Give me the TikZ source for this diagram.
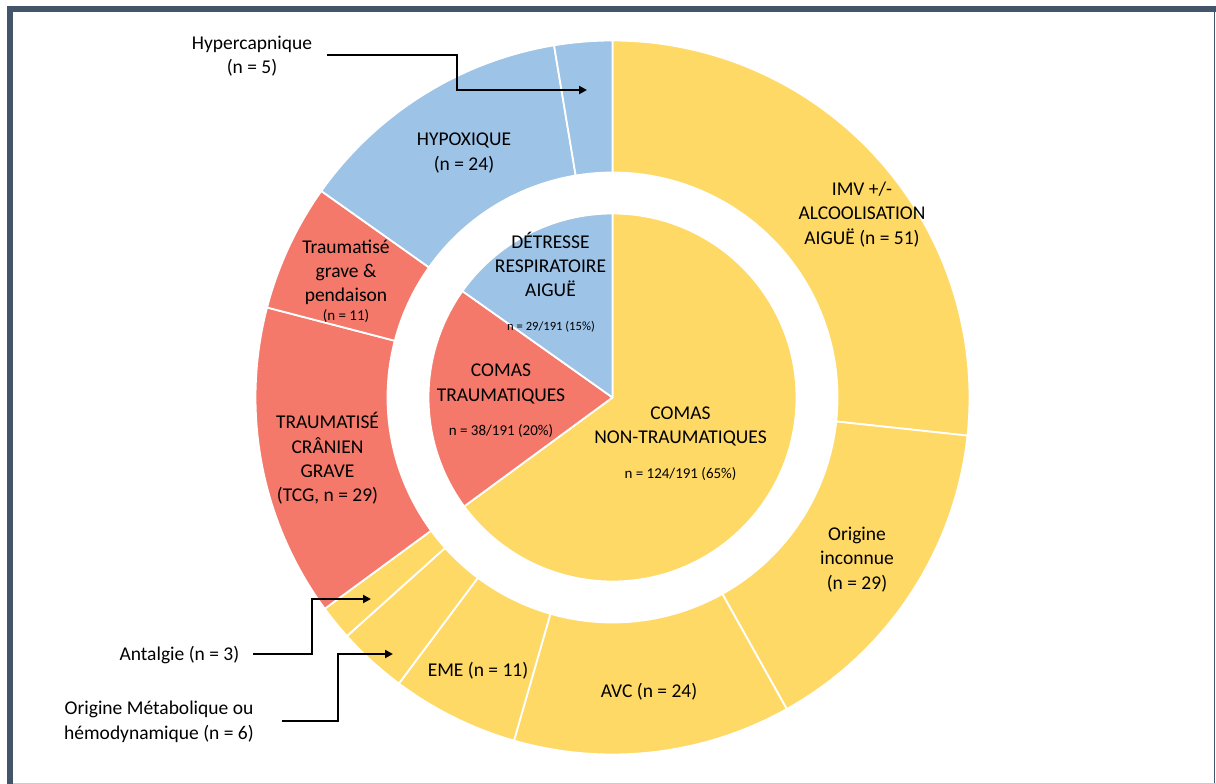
\documentclass[tikz,border=0pt]{standalone}
\usepackage{fontspec}
\setmainfont{Carlito}
\usetikzlibrary{arrows.meta}
\definecolor{segY}{HTML}{FFD966}
\definecolor{segR}{HTML}{F4796B}
\definecolor{segB}{HTML}{9DC3E6}
\definecolor{framecol}{HTML}{44546A}
\def\Rpie{184pt}
\def\Rin{225pt}
\def\Rout{357pt}
\newcommand\ringseg[3]{\filldraw[segline, fill=#1] ([shift={(O)}]#2:\Rin) arc[start angle=#2, end angle=#3, radius=\Rin] -- ([shift={(O)}]#3:\Rout) arc[start angle=#3, end angle=#2, radius=\Rout] -- cycle;}
\newcommand\pieseg[3]{\filldraw[segline, fill=#1] (O) -- ([shift={(O)}]#2:\Rpie) arc[start angle=#2, end angle=#3, radius=\Rpie] -- cycle;}
\begin{document}
\begin{tikzpicture}[x=1pt, y=1pt,
  segline/.style={draw=white, line width=1.8pt, line join=round},
  lbl/.style={font=\fontsize{19.5}{24.3}\selectfont, align=center, inner sep=0pt, anchor=base, text=black},
  smalllbl/.style={font=\fontsize{15}{18}\selectfont, align=center, inner sep=0pt, anchor=base, text=black},
  tinylbl/.style={font=\fontsize{12.6}{15}\selectfont, align=center, inner sep=0pt, anchor=base, text=black},
  conn/.style={draw=black, line width=2pt, -{Triangle[length=8pt, width=8pt]}}]
\useasboundingbox (0,0) rectangle (1216,-784);
% frame
\fill[white] (0,0) rectangle (1216,-784);
\fill[framecol] (7,-6) rectangle (1215.5,-12);
\fill[framecol] (7,-6) rectangle (13,-784);
\draw[framecol, line width=1.5pt] (1214.5,-9) -- (1214.5,-784);
\draw[black!20, line width=1.2pt] (13,-783.4) -- (1216,-783.4);
% chart
\coordinate (O) at (612.5,-397.5);
\pieseg{segY}{90}{-143.717}
\pieseg{segR}{-143.717}{-215.340}
\pieseg{segB}{-215.340}{-270}
\ringseg{segY}{90}{-6.126}
\ringseg{segY}{-6.126}{-60.785}
\ringseg{segY}{-60.785}{-106.021}
\ringseg{segY}{-106.021}{-126.754}
\ringseg{segY}{-126.754}{-138.063}
\ringseg{segY}{-138.063}{-143.717}
\ringseg{segR}{-143.717}{-194.607}
\ringseg{segR}{-194.607}{-215.340}
\ringseg{segB}{-215.340}{-260.576}
\ringseg{segB}{-260.576}{-270}
% inner labels (anchor = baseline of last line)
\node[lbl] (detr) at (550.5,-296.7) {DÉTRESSE\\RESPIRATOIRE\\AIGUË};
\node[tinylbl] (detrn) at (551,-330) {n = 29/191 (15\%)};
\node[lbl] (ctr) at (501,-401) {COMAS\\TRAUMATIQUES};
\node[smalllbl] (ctrn) at (501,-435) {n = 38/191 (20\%)};
\node[lbl] (cnt) at (680.5,-443.3) {COMAS\\NON-TRAUMATIQUES};
\node[smalllbl] (cntn) at (680.5,-478.3) {n = 124/191 (65\%)};
% outer labels
\node[lbl] (imv) at (862,-244) {IMV +/-\\ALCOOLISATION\\AIGUË (n = 51)};
\node[lbl] (inc) at (857,-589) {Origine\\inconnue\\(n = 29)};
\node[lbl] (avc) at (649,-697.3) {AVC (n = 24)};
\node[lbl] (eme) at (478,-676.7) {EME (n = 11)};
\node[lbl] (tcg) at (327.5,-501.7) {TRAUMATISÉ\\CRÂNIEN\\GRAVE\\(TCG, n = 29)};
\node[lbl] (pend) at (346,-301.7) {Traumatisé\\grave \&\\pendaison};
\node[smalllbl] (pendn) at (346,-320) {(n = 11)};
\node[lbl] (hypo) at (464,-170) {HYPOXIQUE\\(n = 24)};
% outside labels
\node[lbl] (hyper) at (252,-74) {Hypercapnique\\(n = 5)};
\node[lbl, anchor=base east] (antal) at (239.5,-660.7) {Antalgie (n = 3)};
\node[lbl] (meta) at (159,-739) {Origine Métabolique ou\\hémodynamique (n = 6)};
% connectors
\coordinate (hyperS) at (327,-55);
\coordinate (hyperT) at (587,-90);
\coordinate (antalS) at (253,-654);
\coordinate (antalT) at (371,-599);
\coordinate (metaS) at (282,-721);
\coordinate (metaT) at (393,-654);
\draw[conn] (hyperS) -- ++(130,0) |- (hyperT);
\draw[conn] (antalS) -- ++(59,0) |- (antalT);
\draw[conn] (metaS) -- ++(56,0) |- (metaT);
\end{tikzpicture}
\end{document}
